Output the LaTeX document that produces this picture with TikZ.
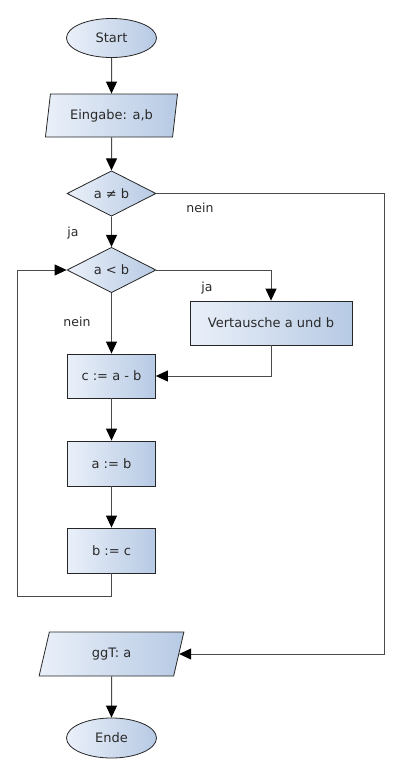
\documentclass[tikz,border=0pt]{standalone}
\usepackage{fontspec}
\setmainfont{DejaVu Sans}
\usetikzlibrary{shapes.geometric,arrows.meta}
\definecolor{fillL}{HTML}{EAF0F9}
\definecolor{fillR}{HTML}{B7CAE4}
\definecolor{lineC}{HTML}{4A4A4A}
\definecolor{txtC}{HTML}{2A2A2A}
\begin{document}
\begin{tikzpicture}[x=1pt,y=-1pt,
  every node/.style={font=\fontsize{13pt}{15pt}\selectfont, text=txtC},
  shp/.style={draw=black!85, line width=0.8pt, left color=fillL, right color=fillR, inner sep=0pt},
  term/.style={shp, ellipse, minimum width=90pt, minimum height=39pt},
  proc/.style={shp, rectangle, minimum width=88pt, minimum height=44pt},
  io/.style={shp, trapezium, trapezium left angle=75, trapezium right angle=105, trapezium stretches=true, minimum height=43pt},
  dec/.style={shp, diamond, minimum width=89pt, minimum height=44pt},
  arr/.style={draw=lineC, line width=1pt, -{Triangle[length=12pt,width=11pt,color=black]}},
  lbl/.style={font=\fontsize{12.5pt}{15pt}\selectfont, text=txtC}
]
\useasboundingbox (0,0) rectangle (400,776);
\fill[white] (0,0) rectangle (400,776);

\node[term] (start) at (111.5,38) {Start};
\node[io, minimum width=133pt] (eing) at (111.5,115.5) {Eingabe: a,b};
\node[dec] (neq) at (111.5,193.5) {a ≠ b};
\node[dec] (lt) at (111.5,270) {a < b};
\node[proc, minimum width=162pt] (vt) at (271,323) {Vertausche a und b};
\node[proc] (c1) at (111.5,376) {c := a - b};
\node[proc, minimum height=45pt] (a1) at (111.5,463.5) {a := b};
\node[proc, minimum height=45pt] (b1) at (111.5,550.5) {b := c};
\node[io, minimum width=145pt, minimum height=44pt] (ggt) at (111.5,654) {ggT: a};
\node[term, minimum height=40pt] (ende) at (111.5,738) {Ende};

\coordinate (rc) at (384,0);
\coordinate (lc) at (17,596);

\draw[arr] (start) -- (eing);
\draw[arr] (eing) -- (neq);
\draw[arr] (neq.east) -- (neq.east -| rc) |- (ggt.east);
\draw[arr] (neq) -- (lt);
\draw[arr] (lt.east) -| (vt.north);
\draw[arr] (vt.south) |- (c1.east);
\draw[arr] (lt) -- (c1);
\draw[arr] (c1) -- (a1);
\draw[arr] (a1) -- (b1);
\draw[arr] (b1.south) |- (lc) |- (lt.west);
\draw[arr] (ggt) -- (ende);

\node[lbl] (l1) at (200,208) {nein};
\node[lbl] (l2) at (73,233) {ja};
\node[lbl] (l3) at (207,288) {ja};
\node[lbl] (l4) at (77,322) {nein};
\end{tikzpicture}
\end{document}
